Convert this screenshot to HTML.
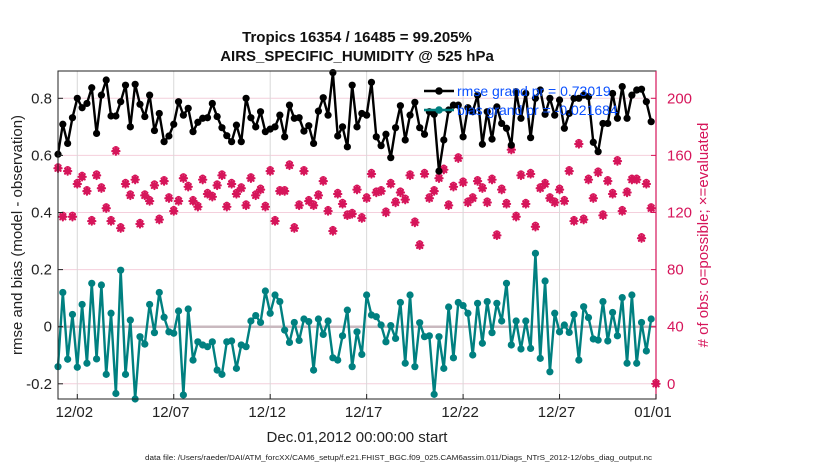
<!DOCTYPE html>
<html><head><meta charset="utf-8">
<style>
html,body{margin:0;padding:0;background:#fff;overflow:hidden;width:830px;height:470px;}
svg{display:block;font-family:"Liberation Sans",sans-serif;}
</style></head>
<body>
<svg id="chart" width="830" height="470" viewBox="0 0 830 470" xmlns="http://www.w3.org/2000/svg">
  <rect x="0" y="0" width="830" height="470" fill="#fff"/>
  <g id="grid"></g>
  <g id="marks"></g>
  <rect x="58" y="71" width="598" height="328" fill="none" stroke="#222" stroke-width="1"/>
  <line x1="656" y1="71" x2="656" y2="399" stroke="#d6155a" stroke-width="1.2"/>
  <g id="axes"></g>
  <text x="357" y="42" text-anchor="middle" font-size="15" font-weight="bold" fill="#111">Tropics 16354 / 16485 = 99.205%</text>
  <text x="357" y="61" text-anchor="middle" font-size="15" font-weight="bold" fill="#111">AIRS_SPECIFIC_HUMIDITY @ 525 hPa</text>
  <text transform="translate(22,235) rotate(-90)" text-anchor="middle" font-size="15" fill="#222">rmse and bias (model - observation)</text>
  <text transform="translate(708,235) rotate(-90)" text-anchor="middle" font-size="15" fill="#d6155a"># of obs: o=possible; ×=evaluated</text>
  <text x="357" y="442" text-anchor="middle" font-size="15" fill="#222">Dec.01,2012 00:00:00 start</text>
  <text x="145" y="460" font-size="7" fill="#222" textLength="507" lengthAdjust="spacingAndGlyphs">data file: /Users/raeder/DAI/ATM_forcXX/CAM6_setup/f.e21.FHIST_BGC.f09_025.CAM6assim.011/Diags_NTrS_2012-12/obs_diag_output.nc</text>
  <g id="legend"></g>
</svg>
<script>
const rmse = [0.604,0.709,0.642,0.732,0.800,0.767,0.782,0.837,0.677,0.811,0.864,0.738,0.738,0.788,0.846,0.700,0.849,0.779,0.736,0.811,0.687,0.747,0.648,0.668,0.709,0.788,0.741,0.765,0.683,0.716,0.730,0.732,
0.782,0.736,0.697,0.669,0.648,0.706,0.648,0.800,0.732,0.700,0.753,0.683,0.692,0.700,0.741,0.665,0.776,0.730,0.732,0.685,0.704,0.642,0.755,0.802,0.741,0.890,0.668,0.700,0.630,0.846,0.700,
0.747,0.741,0.856,0.665,0.634,0.674,0.592,0.697,0.774,0.654,0.741,0.786,0.697,0.674,0.753,0.744,0.545,0.654,0.759,0.776,0.776,0.665,0.767,0.753,0.811,0.639,0.753,0.657,0.770,0.712,0.695,
0.636,0.823,0.730,0.817,0.662,0.800,0.829,0.744,0.800,0.741,0.794,0.695,0.747,0.800,0.800,0.811,0.806,0.646,0.613,0.712,0.712,0.817,0.730,0.841,0.730,0.811,0.829,0.832,0.788,0.718];
const bias = [-0.140,0.120,-0.114,0.043,-0.142,0.078,-0.128,0.152,-0.113,0.146,-0.167,0.047,-0.234,0.198,-0.167,0.023,-0.255,-0.035,-0.061,0.078,-0.021,0.120,0.033,-0.018,-0.023,0.055,-0.239,0.062,-0.117,-0.053,-0.064,-0.070,
-0.053,-0.152,-0.167,-0.053,-0.050,-0.146,-0.064,-0.070,0.020,0.039,0.015,0.125,0.047,0.111,0.088,-0.012,-0.055,0.015,-0.048,0.027,0.018,-0.152,0.027,-0.027,0.020,-0.109,-0.117,-0.032,0.058,-0.140,-0.018,
-0.097,0.111,0.041,0.035,0.006,-0.053,0.004,-0.041,0.085,-0.128,0.111,-0.140,0.014,-0.035,-0.032,-0.237,-0.035,-0.146,0.069,-0.109,0.085,0.074,0.047,-0.099,0.082,-0.058,0.088,-0.021,0.082,0.020,0.152,
-0.064,0.020,-0.078,0.020,-0.076,0.257,-0.111,0.160,-0.158,0.047,-0.018,0.006,-0.020,0.043,-0.117,0.070,0.032,-0.043,-0.047,0.088,-0.050,0.050,-0.032,0.102,-0.128,0.111,-0.128,0.015,-0.085,0.027];
const nEvaluated = [151,117,149,117,140,145,135,114,146,137,123,114,163,109,140,132,143,112,132,128,139,115,142,130,121,128,144,138,128,124,143,133,
131,139,146,124,140,133,137,125,144,132,136,124,149,114,135,135,153,109,125,149,128,125,132,142,121,107,133,126,118,119,136,
116,130,147,134,135,120,140,127,134,129,146,113,97,147,130,135,144,150,125,138,158,141,127,130,142,137,127,143,104,136,126,
164,117,146,126,147,110,137,140,130,127,136,128,149,114,168,115,143,130,148,118,142,133,156,121,134,143,143,102,140,123,0];
const nPossible = nEvaluated.slice();
const leftTicks = [0.8,0.6,0.4,0.2,0,-0.2];
const leftTickLabels = ["0.8","0.6","0.4","0.2","0","-0.2"];
const rightTicks = [200,160,120,80,40,0];
const dateTickDays = [1,6,11,16,21,26,31];
const dateTickLabels = ["12/02","12/07","12/12","12/17","12/22","12/27","01/01"];
const stepsPerDay = 4;

const X0=58, X1=656, Y0=71, Y1=399, DAYS=31;
const xScale = d => X0 + (d/DAYS)*(X1-X0);
const yLeft = v => 326.7 - v*285.5;
const yRight = v => 383.8 - v*(285.5/200);
const NS="http://www.w3.org/2000/svg";
function mk(tag, attrs, parent){const e=document.createElementNS(NS,tag);for(const k in attrs)e.setAttribute(k,attrs[k]);parent.appendChild(e);return e;}
const grid=document.getElementById('grid'), marks=document.getElementById('marks'), axes=document.getElementById('axes'), legend=document.getElementById('legend');

leftTicks.forEach((t,i)=>{
  const y=yLeft(t);
  if(t!==0){const g=mk('line',{x1:X0,x2:X1,y1:y,y2:y,stroke:'#f4cfdc','stroke-width':1},grid);
  
  }
  const tk=mk('line',{x1:X0,x2:X0+5,y1:y,y2:y,stroke:'#222'},axes);
  
  
  const tx=mk('text',{x:52,y:y+5,'text-anchor':'end','font-size':15,fill:'#222'},axes);
  tx.textContent=leftTickLabels[i];
  
  
});
rightTicks.forEach(t=>{
  const y=yRight(t);
  const tk=mk('line',{x1:X1-5,x2:X1,y1:y,y2:y,stroke:'#d6155a'},axes);
  
  
  const tx=mk('text',{x:667,y:y+5,'font-size':15,fill:'#d6155a'},axes);
  tx.textContent=String(t);
  
  
});
dateTickDays.forEach((d,i)=>{
  const x=xScale(d);
  if(d<DAYS){const g=mk('line',{x1:x,x2:x,y1:Y0,y2:Y1,stroke:'#d8d8d8','stroke-width':1},grid);
  
  }
  const tk=mk('line',{x1:x,x2:x,y1:Y1-5,y2:Y1,stroke:'#222'},axes);
  
  
  const tx=mk('text',{x:x-3,y:417,'text-anchor':'middle','font-size':15,fill:'#222'},axes);
  tx.textContent=dateTickLabels[i];
  
  
});
const zl=mk('line',{x1:X0,x2:X1,y1:yLeft(0),y2:yLeft(0),stroke:'#c9b9bf','stroke-width':2.5},grid);



const cg=mk('g',{},marks);


nPossible.forEach((v,i)=>{
  const c=mk('circle',{cx:xScale(i/stepsPerDay),cy:yRight(v)-2,r:2.5,fill:'#fff',stroke:'#d6155a','stroke-width':1.3},cg);
  
  
});
nEvaluated.forEach((v,i)=>{
  const x=xScale(i/stepsPerDay), y=yRight(v), s=3.6;
  const p=mk('path',{d:`M${x-s},${y}H${x+s}M${x},${y-s}V${y+s}M${x-2.6},${y-2.6}L${x+2.6},${y+2.6}M${x-2.6},${y+2.6}L${x+2.6},${y-2.6}`,stroke:'#d6155a','stroke-width':2.2,'stroke-linecap':'round'},cg);
  
  
});

function series(vals,color,name){
  const g=mk('g',{},marks);
  
  
  const pts=vals.map((v,i)=>[xScale(i/stepsPerDay),Math.max(Y0,Math.min(Y1,yLeft(v)))]);
  const pl=mk('polyline',{points:pts.map(p=>p.join(',')).join(' '),fill:'none',stroke:color,'stroke-width':2.4,'stroke-linejoin':'round'},g);
  
  
  pts.forEach(p=>{
    const c=mk('circle',{cx:p[0],cy:p[1],r:3.6,fill:color},g);
    
    
  });
}
series(bias,'#008080','bias');
series(rmse,'#000','rmse');

[["rmse grand pr = 0.73019",'#000',91],["bias grand pr = -0.021684",'#008080',110]].forEach(([t,c,y])=>{
  const l=mk('line',{x1:424,x2:454,y1:y,y2:y,stroke:c,'stroke-width':2.6},legend);
  
  
  const m=mk('circle',{cx:439,cy:y,r:3.8,fill:c},legend);
  
  
  const tx=mk('text',{x:457,y:y+5,'font-size':14,fill:'#0a50ff'},legend);
  tx.textContent=t;
  
  
});
</script>
</body></html>
